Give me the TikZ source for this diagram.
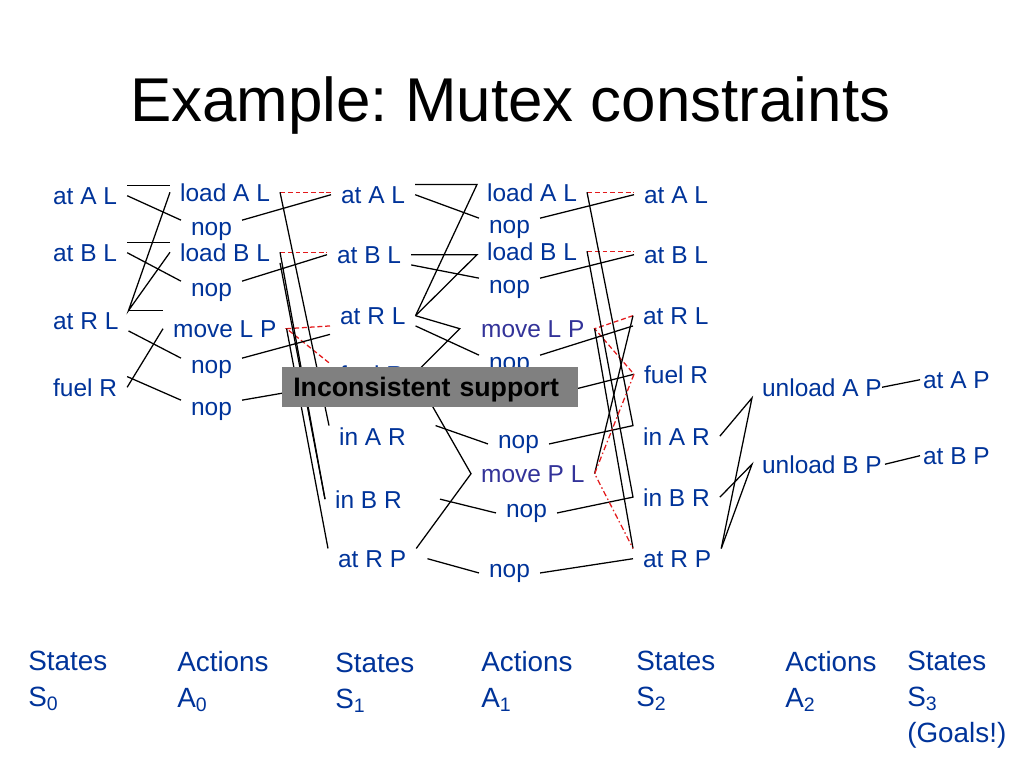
\documentclass[tikz,border=0pt]{standalone}
\usepackage{fontspec}
\setmainfont{Liberation Sans}
\frenchspacing
\definecolor{labblue}{HTML}{003399}
\definecolor{mvblue}{HTML}{333399}
\definecolor{delred}{HTML}{E31A1C}
\definecolor{boxgray}{HTML}{808080}
\newcommand\labfont{\fontsize{17.4}{20}\selectfont}
\begin{document}
\begin{tikzpicture}[x=0.025cm,y=-0.025cm,
 lab/.style={font=\labfont,text=labblue,inner xsep=7pt,inner ysep=1pt,anchor=base west},
 mv/.style={lab,text=mvblue},
 conn/.style={draw,line width=0.9pt},
 del/.style={draw=delred,dash pattern=on 3.5pt off 2pt,line width=0.9pt},
 deldot/.style={draw=delred,dash pattern=on 4pt off 2pt on 1pt off 2pt,line width=0.9pt},
 incbox/.style={fill=boxgray,anchor=north west,inner xsep=7.8pt,inner ysep=0pt,minimum height=28.4pt,
 text width=195pt,align=left,text depth=0pt,font=\fontsize{19}{22}\selectfont\bfseries,text=black},
 colhead/.style={font=\fontsize{19.8}{25.5}\selectfont,text=labblue,align=left,anchor=north west,inner sep=0pt}]
\useasboundingbox (0,0) rectangle (1024,768);
\node[font=\fontsize{44}{50}\selectfont,anchor=base west,inner sep=0pt] (title) at (130,122) {Example: Mutex constraints};
% states S0
\node[lab] (s0al) at (43,204) {at A L};
\node[lab] (s0bl) at (43,261) {at B L};
\node[lab] (s0rl) at (43,329) {at R L};
\node[lab] (s0fr) at (43,396) {fuel R};
% actions A0
\node[lab] (a0la) at (170,201) {load A L};
\node[lab] (a0na) at (181,235) {nop};
\node[lab] (a0lb) at (170,261) {load B L};
\node[lab] (a0nb) at (181,296) {nop};
\node[lab] (a0mv) at (163,337) {move L P};
\node[lab] (a0nr) at (181,373) {nop};
\node[lab] (a0nf) at (181,415) {nop};
% states S1
\node[lab] (s1al) at (331,203) {at A L};
\node[lab] (s1bl) at (327,263) {at B L};
\node[lab] (s1rl) at (330,324) {at R L};
\node[lab] (s1fr) at (330,383) {fuel R};
\node[lab] (s1ia) at (329,445) {in A R};
\node[lab] (s1ib) at (325,508) {in B R};
\node[lab] (s1rp) at (328,567) {at R P};
% actions A1
\node[lab] (a1la) at (477,201) {load A L};
\node[lab] (a1na) at (479,233) {nop};
\node[lab] (a1lb) at (477,260) {load B L};
\node[lab] (a1nb) at (479,293) {nop};
\node[mv] (a1mv) at (471,337) {move L P};
\node[lab] (a1nr) at (479,370) {nop};
\node[lab] (a1nf) at (487,400) {nop};
\node[lab] (a1ni) at (488,448) {nop};
\node[mv] (a1mb) at (471,482) {move P L};
\node[lab] (a1nj) at (496,517) {nop};
\node[lab] (a1np) at (479,577) {nop};
% states S2
\node[lab] (s2al) at (634,203) {at A L};
\node[lab] (s2bl) at (634,263) {at B L};
\node[lab] (s2rl) at (633,324) {at R L};
\node[lab] (s2fr) at (634,383) {fuel R};
\node[lab] (s2ia) at (633,445) {in A R};
\node[lab] (s2ib) at (633,506) {in B R};
\node[lab] (s2rp) at (633,567) {at R P};
% actions A2, states S3
\node[lab] (a2ua) at (752,396) {unload A P};
\node[lab] (a2ub) at (752,473) {unload B P};
\node[lab] (s3ap) at (913,388) {at A P};
\node[lab] (s3bp) at (913,464) {at B P};
% S0 -> A0
\draw[conn] (s0al.north east) -- (s0al.north east -| a0la.west);
\draw[conn] (s0al.east) -- (a0na.north west);
\draw[conn] (s0bl.north east) -- (s0bl.north east -| a0lb.west);
\draw[conn] (s0bl.east) -- (a0nb.north west);
\draw[conn] (a0la.west) -- (s0rl.north east) -- (a0lb.west);
\draw[conn] (s0rl.north east) -- (s0rl.north east -| a0mv.west);
\draw[conn] (s0rl.south east) -- (a0nr.north west);
\draw[conn] (s0fr.east) -- (a0mv.west); \draw[conn] (s0fr.north east) -- (a0nf.north west);
% A0 -> S1
\draw[conn] (a0na.north east) -- (s1al.west);
\draw[del] (a0la.east) -- (a0la.east -| s1al.west);
\draw[del] (a0lb.east) -- (a0lb.east -| s1bl.west);
\draw[conn] (a0nb.north east) -- (s1bl.west);
\draw[del] (s1rl.south west) -- (a0mv.east) -- (s1fr.north west);
\draw[conn] (a0nr.north east) -- ([yshift=-6pt]s1rl.south west);
\draw[conn] (a0nf.north east) -- (s1fr.south west);
\draw[conn] (a0la.east) -- (s1ia.north west);
\draw[conn] (a0lb.east) -- (s1ib.west); \draw[conn] (a0lb.south east) -- (s1ib.west);
\draw[conn] (a0mv.east) -- (s1rp.north west);
% S1 -> A1
\draw[conn] (s1al.north east) -- (s1al.north east -| a1la.west) -- (s1rl.east);
\draw[conn] (s1al.east) -- (a1na.north west);
\draw[conn] (s1bl.east) -- (s1bl.east -| a1lb.west) -- (s1rl.east);
\draw[conn] (s1bl.south east) -- (a1nb.north west);
\draw[conn] (s1rl.east) -- ([xshift=-8pt]a1mv.west) -- (s1fr.east);
\draw[conn] (s1rl.south east) -- (a1nr.north west);
\draw[conn] (s1fr.east) -- (a1nf.west);
\draw[conn] (s1fr.east) -- (a1mb.west) -- (s1rp.north east);
\draw[conn] ([xshift=14pt]s1ia.north east) -- (a1ni.west);
\draw[conn] ([xshift=20pt]s1ib.east) -- (a1nj.west);
\draw[conn] ([xshift=8pt]s1rp.east) -- (a1np.west);
% A1 -> S2
\draw[del] (a1la.east) -- (a1la.east -| s2al.west);
\draw[conn] (a1na.north east) -- (s2al.west);
\draw[del] (a1lb.east) -- (a1lb.east -| s2bl.west);
\draw[conn] (a1nb.north east) -- (s2bl.west);
\draw[del] (s2rl.west) -- (a1mv.east) -- (s2fr.west);
\draw[conn] (a1nr.north east) -- (s2rl.south west);
\draw[conn] (a1nf.east) -- (s2fr.west);
\draw[conn] (a1la.east) -- (s2ia.north west) -- (a1ni.east);
\draw[conn] (a1lb.east) -- (s2ib.west) -- (a1nj.east);
\draw[conn] (a1mv.east) -- (s2rp.north west);
\draw[conn] (a1mb.east) -- (s2rl.west);
\draw[deldot] (s2fr.west) -- (a1mb.east) -- (s2rp.north west);
\draw[conn] (a1np.east) -- (s2rp.west);
% S2 -> A2 -> S3
\draw[conn] (s2ia.east) -- (a2ua.south west) -- (s2rp.north east);
\draw[conn] (s2ib.east) -- (a2ub.west) -- (s2rp.north east);
\draw[conn] ([xshift=-7pt]a2ua.east) -- ([xshift=5pt]s3ap.west);
\draw[conn] ([xshift=-5pt]a2ub.east) -- ([xshift=5pt]s3bp.west);
\node[incbox] (inc) at (282,367) {Inconsistent support};
% column captions
\foreach \x/\y/\t [count=\i] in {28/651/{States\\S\textsubscript{0}},177/651/{Actions\\A\textsubscript{0}},
 335/653/{States\\S\textsubscript{1}},481/651/{Actions\\A\textsubscript{1}},636/651/{States\\S\textsubscript{2}},
 785/651/{Actions\\A\textsubscript{2}},907/651/{States\\S\textsubscript{3}\\(Goals!)}}
 \node[colhead] (col\i) at (\x,\y) {\t};
\end{tikzpicture}
\end{document}
